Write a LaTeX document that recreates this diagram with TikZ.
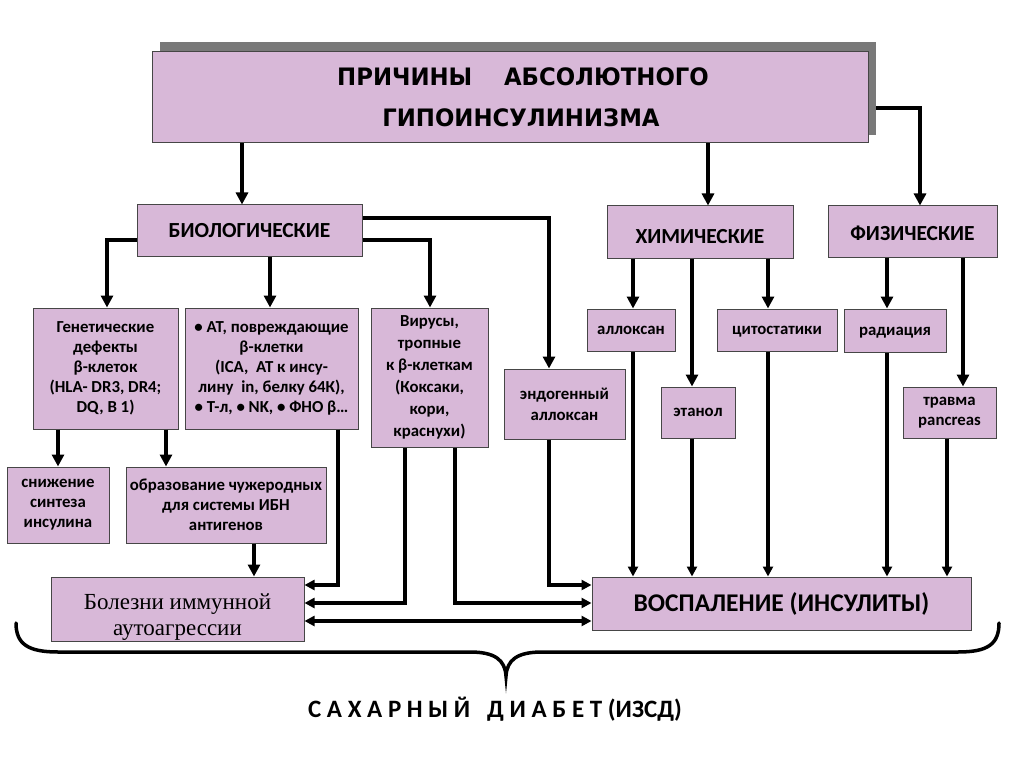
\documentclass[tikz,border=0pt]{standalone}
\usepackage{fontspec}
\setmainfont{Carlito}
\newfontfamily\titlefont[FakeStretch=0.95]{DejaVu Sans}
\newfontfamily\seriffont{Liberation Serif}
\usetikzlibrary{arrows.meta}
\definecolor{boxfill}{RGB}{216,184,216}
\definecolor{boxline}{RGB}{70,70,70}
\newcommand{\lowerby}[2]{\raisebox{-#1}[\height][\depth]{#2}}
\tikzset{
  box/.style={draw=boxline, line width=1pt, fill=boxfill, inner sep=0pt, align=center,
    font=\fontsize{16.8}{20}\selectfont\bfseries},
  head/.style={box, font=\fontsize{21.5}{24}\selectfont\bfseries},
  arr/.style={line width=3.2pt, -{Triangle[length=12pt,width=12pt]}},
  arrs/.style={line width=3.2pt, -{Triangle[length=10pt,width=10pt]}},
  darr/.style={line width=3.2pt, {Triangle[length=10pt,width=10pt]}-{Triangle[length=10pt,width=10pt]}},
  brace/.style={line width=3.5pt, line cap=round}
}
\begin{document}
\begin{tikzpicture}[x=1pt,y=-1pt]
\useasboundingbox (0,0) rectangle (1024,767);
% shadow and title
\node[fill=gray!95!black, inner sep=0pt, minimum width=716pt, minimum height=93pt] (shadow) at (518,88.5) {};
\node[box, minimum width=716pt, minimum height=91pt, font=\titlefont\fontsize{24}{41}\selectfont\bfseries] (top) at (510,97.5)
  {\hspace*{26pt}ПРИЧИНЫ\ \ \ \ АБСОЛЮТНОГО\\\hspace*{22pt}ГИПОИНСУЛИНИЗМА};
% level 1
\node[head, minimum width=225pt, minimum height=51pt] (bio) at (249.5,230.5) {БИОЛОГИЧЕСКИЕ};
\node[head, minimum width=186pt, minimum height=52pt] (chem) at (700,232) {\lowerby{5pt}{ХИМИЧЕСКИЕ}};
\node[head, minimum width=169pt, minimum height=51pt] (phys) at (912.5,231.5) {\lowerby{1.5pt}{ФИЗИЧЕСКИЕ}};
% level 2
\node[box, minimum width=145pt, minimum height=121pt] (gen) at (105.5,368.5)
  {Генетические\\дефекты\\β-клеток\\(HLA- DR3, DR4;\\DQ, В 1)};
\node[box, minimum width=173pt, minimum height=121pt] (at) at (271.5,368.5)
  {• АТ, повреждающие\\β-клетки\\(ICA,\ \ АТ к инсу-\\лину\ \ in, белку 64К),\\• Т-л, • NK, • ФНО β…};
\node[box, minimum width=117pt, minimum height=139pt, font=\fontsize{16.8}{22}\selectfont\bfseries] (vir) at (429.5,377.5)
  {Вирусы,\\тропные\\к β-клеткам\\(Коксаки,\\кори,\\краснухи)};
\node[box, minimum width=121pt, minimum height=70pt, font=\fontsize{16.8}{21}\selectfont\bfseries] (endo) at (564.5,404)
  {эндогенный\\аллоксан};
\node[box, minimum width=88pt, minimum height=42pt] (allox) at (631,330) {аллоксан};
\node[box, minimum width=74pt, minimum height=51pt] (eth) at (698,412.5) {этанол};
\node[box, minimum width=120pt, minimum height=42pt] (cyto) at (777,330) {\lowerby{2pt}{цитостатики}};
\node[box, minimum width=102pt, minimum height=43pt] (rad) at (895,330.5) {\lowerby{2pt}{радиация}};
\node[box, minimum width=93pt, minimum height=51pt] (trauma) at (949.5,412.5) {травма\\pancreas};
% level 3
\node[box, minimum width=102pt, minimum height=76pt] (low) at (58,505) {снижение\\синтеза\\инсулина};
\node[box, minimum width=200pt, minimum height=76pt] (form) at (226,505)
  {образование чужеродных\\для системы ИБН\\антигенов};
% bottom
\node[box, minimum width=253pt, minimum height=64pt, font=\seriffont\fontsize{23}{26}\selectfont] (bol) at (177.5,609)
  {\lowerby{8pt}{\parbox{250pt}{\centering Болезни иммунной\\аутоагрессии}}};
\node[box, minimum width=379pt, minimum height=53pt, font=\fontsize{25.5}{28}\selectfont\bfseries] (inf) at (781.5,603.5)
  {ВОСПАЛЕНИЕ (ИНСУЛИТЫ)};
% connectors from title
\draw[arr] (top.south -| 242,0) -- (bio.north -| 242,0);
\draw[arr] (top.south -| 708,0) -- (chem.north -| 708,0);
\draw[arr] (shadow.east |- 0,108) -- (920,108) -- (phys.north -| 920,0);
% from biological
\draw[arr] (bio.west |- 0,240) -- (107,240) -- (gen.north -| 107,0);
\draw[arr] (bio.south -| 270,0) -- (at.north -| 270,0);
\draw[arr] (bio.east |- 0,218) -- (549,218) -- (endo.north -| 549,0);
\draw[arr] (bio.east |- 0,240) -- (430,240) -- (vir.north -| 430,0);
% from chemical
\draw[arr] (chem.south -| 633,0) -- (allox.north -| 633,0);
\draw[arr] (chem.south -| 692,0) -- (eth.north -| 692,0);
\draw[arr] (chem.south -| 768,0) -- (cyto.north -| 768,0);
% from physical
\draw[arr] (phys.south -| 887,0) -- (rad.north -| 887,0);
\draw[arr] (phys.south -| 963,0) -- (trauma.north -| 963,0);
% genetic
\draw[arr] (gen.south -| 58,0) -- (low.north -| 58,0);
\draw[arr] (gen.south -| 166,0) -- (form.north -| 166,0);
\draw[arr] (form.south -| 254,0) -- (bol.north -| 254,0);
% to immune diseases
\draw[arrs] (at.south -| 338,0) -- (338,585) -- (bol.east |- 0,585);
\draw[arrs] (vir.south -| 405,0) -- (405,603) -- (bol.east |- 0,603);
\draw[arrs] (vir.south -| 455,0) -- (455,603) -- (inf.west |- 0,603);
\draw[arrs] (endo.south -| 549,0) -- (549,585) -- (inf.west |- 0,585);
\draw[darr] (bol.east |- 0,621) -- (inf.west |- 0,621);
% to inflammation
\draw[arrs] (allox.south -| 633,0) -- (inf.north -| 633,0);
\draw[arrs] (eth.south -| 692,0) -- (inf.north -| 692,0);
\draw[arrs] (cyto.south -| 768,0) -- (inf.north -| 768,0);
\draw[arrs] (rad.south -| 887,0) -- (inf.north -| 887,0);
\draw[arrs] (trauma.south -| 947,0) -- (inf.north -| 947,0);
% brace
\draw[brace] (16,623) .. controls (16,644) and (28,652) .. (58,652) -- (470,652)
  .. controls (495,652) and (505,660) .. (506,676)
  .. controls (507,660) and (517,652) .. (542,652) -- (958,652)
  .. controls (988,652) and (999,644) .. (999,623);
\node[font=\fontsize{25}{28}\selectfont\bfseries] (sd) at (495,709) {С А Х А Р Н Ы Й\ \ \ Д И А Б Е Т (ИЗСД)};
\end{tikzpicture}
\end{document}
